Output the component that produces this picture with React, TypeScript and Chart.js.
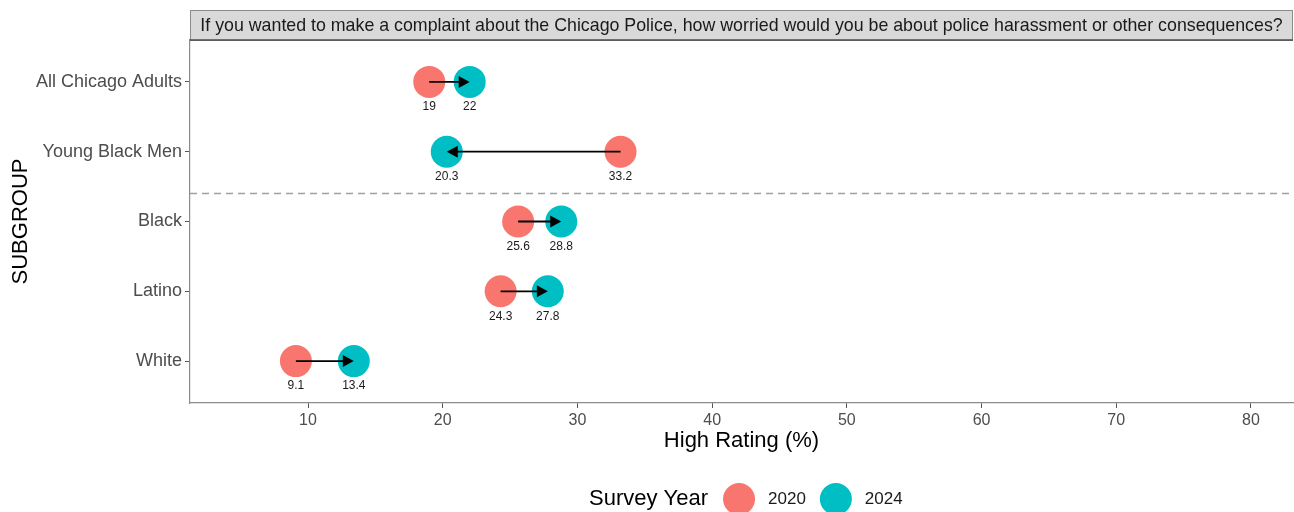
import React, { useEffect, useRef } from "react";
import { Chart, registerables } from "chart.js";

Chart.register(...registerables);

const categories = ["All Chicago Adults", "Young Black Men", "Black", "Latino", "White"];
const values2020 = [19, 33.2, 25.6, 24.3, 9.1];
const values2024 = [22, 20.3, 28.8, 27.8, 13.4];
const labels2020 = ["19", "33.2", "25.6", "24.3", "9.1"];
const labels2024 = ["22", "20.3", "28.8", "27.8", "13.4"];
const xTicks = [10, 20, 30, 40, 50, 60, 70, 80];
const seriesNames = ["2020", "2024"];
const dividerPosition = 1.6;
const stripTitle =
  "If you wanted to make a complaint about the Chicago Police, how worried would you be about police harassment or other consequences?";
const xTitle = "High Rating (%)";
const yTitle = "SUBGROUP";
const legendTitle = "Survey Year";

const COLORS = ["#F8766D", "#00BFC4"];
const FONT = "'Liberation Sans', Arial, Helvetica, sans-serif";

const overlayPlugin = {
  id: "overlay",
  beforeDatasetsDraw(chart: any) {
    const { ctx, chartArea, scales } = chart;
    const y = scales.y.getPixelForValue(dividerPosition);
    ctx.save();
    ctx.strokeStyle = "#a0a0a0";
    ctx.lineWidth = 1.5;
    ctx.setLineDash([7, 5]);
    ctx.beginPath();
    ctx.moveTo(chartArea.left, y);
    ctx.lineTo(chartArea.right, y);
    ctx.stroke();
    ctx.restore();
  },
  afterDatasetsDraw(chart: any) {
    const { ctx, scales } = chart;
    const xs = scales.x;
    const ys = scales.y;
    ctx.save();
    for (let i = 0; i < categories.length; i++) {
      const x1 = xs.getPixelForValue(values2020[i]);
      const x2 = xs.getPixelForValue(values2024[i]);
      const y = ys.getPixelForValue(i);
      const dir = Math.sign(x2 - x1) || 1;
      const headLen = 11;
      const headHalf = 6;
      ctx.strokeStyle = "#000";
      ctx.lineWidth = 1.8;
      ctx.beginPath();
      ctx.moveTo(x1, y);
      ctx.lineTo(x2 - dir * headLen * 0.6, y);
      ctx.stroke();
      ctx.fillStyle = "#000";
      ctx.beginPath();
      ctx.moveTo(x2, y);
      ctx.lineTo(x2 - dir * headLen, y - headHalf);
      ctx.lineTo(x2 - dir * headLen, y + headHalf);
      ctx.closePath();
      ctx.fill();
    }
    ctx.font = `12px ${FONT}`;
    ctx.fillStyle = "#1a1a1a";
    ctx.textAlign = "center";
    ctx.textBaseline = "middle";
    for (let i = 0; i < categories.length; i++) {
      const y = ys.getPixelForValue(i) + 25;
      ctx.fillText(labels2020[i], xs.getPixelForValue(values2020[i]), y);
      ctx.fillText(labels2024[i], xs.getPixelForValue(values2024[i]), y);
    }
    ctx.restore();
  },
  afterDraw(chart: any) {
    const { ctx, chartArea } = chart;
    ctx.save();
    const top = 10;
    const bottom = chartArea.top;
    ctx.fillStyle = "#D9D9D9";
    ctx.fillRect(chartArea.left, top, chartArea.right - chartArea.left, bottom - top);
    ctx.strokeStyle = "#8c8c8c";
    ctx.lineWidth = 1;
    ctx.strokeRect(chartArea.left + 0.5, top + 0.5, chartArea.right - chartArea.left - 1, bottom - top);
    ctx.strokeStyle = "#4d4d4d";
    ctx.lineWidth = 1.6;
    ctx.beginPath();
    ctx.moveTo(chartArea.left, bottom);
    ctx.lineTo(chartArea.right, bottom);
    ctx.stroke();
    ctx.fillStyle = "#1a1a1a";
    ctx.font = `17.8px ${FONT}`;
    ctx.textAlign = "center";
    ctx.textBaseline = "middle";
    ctx.fillText(stripTitle, (chartArea.left + chartArea.right) / 2, (top + bottom) / 2 + 1);

    ctx.fillStyle = "#000";
    ctx.font = `22px ${FONT}`;
    ctx.fillText(xTitle, (chartArea.left + chartArea.right) / 2, 441);
    ctx.save();
    ctx.translate(21, (chartArea.top + chartArea.bottom) / 2);
    ctx.rotate(-Math.PI / 2);
    ctx.fillText(yTitle, 0, 0);
    ctx.restore();

    const ly = 499;
    let lx = 589;
    ctx.textAlign = "left";
    ctx.font = `22px ${FONT}`;
    ctx.fillStyle = "#000";
    ctx.fillText(legendTitle, lx, ly);
    lx += ctx.measureText(legendTitle).width + 15;
    ctx.font = `17px ${FONT}`;
    for (let k = 0; k < seriesNames.length; k++) {
      ctx.fillStyle = COLORS[k];
      ctx.beginPath();
      ctx.arc(lx + 16, ly, 16, 0, Math.PI * 2);
      ctx.fill();
      lx += 32 + 13;
      ctx.fillStyle = "#1a1a1a";
      ctx.fillText(seriesNames[k], lx, ly);
      lx += ctx.measureText(seriesNames[k]).width + 14;
    }
    ctx.restore();
  },
};

export default function App() {
  const canvasRef = useRef<HTMLCanvasElement | null>(null);

  useEffect(() => {
    if (!canvasRef.current) return;
    Chart.defaults.font.family = FONT;
    const chart = new Chart(canvasRef.current, {
      type: "scatter",
      data: {
        datasets: [
          {
            label: seriesNames[0],
            data: values2020.map((v, i) => ({ x: v, y: i })),
            backgroundColor: COLORS[0],
            borderWidth: 0,
            pointRadius: 16,
            pointHoverRadius: 16,
          },
          {
            label: seriesNames[1],
            data: values2024.map((v, i) => ({ x: v, y: i })),
            backgroundColor: COLORS[1],
            borderWidth: 0,
            pointRadius: 16,
            pointHoverRadius: 16,
          },
        ],
      },
      options: {
        responsive: false,
        animation: false,
        devicePixelRatio: 1,
        events: [],
        layout: { autoPadding: false, padding: { top: 40, right: 1, left: 0, bottom: 0 } },
        plugins: {
          legend: { display: false },
          tooltip: { enabled: false },
        },
        scales: {
          x: {
            type: "linear",
            min: 1.24,
            max: 83.12,
            afterBuildTicks: (scale: any) => {
              scale.ticks = xTicks.map((v) => ({ value: v }));
            },
            afterFit: (scale: any) => {
              scale.height = 109;
              scale.paddingLeft = 0;
              scale.paddingRight = 0;
            },
            grid: {
              display: true,
              drawOnChartArea: false,
              drawTicks: true,
              tickLength: 5,
              tickColor: "#555555",
            },
            border: { display: true, color: "#8c8c8c", width: 1.2 },
            ticks: {
              padding: 3,
              color: "#4d4d4d",
              font: { size: 16, family: FONT },
              maxRotation: 0,
              callback: (v: any) => String(v),
            },
          },
          y: {
            type: "linear",
            reverse: true,
            min: -0.6,
            max: 4.6,
            afterBuildTicks: (scale: any) => {
              scale.ticks = categories.map((_, i) => ({ value: i }));
            },
            afterFit: (scale: any) => {
              scale.width = 190;
              scale.paddingTop = 0;
              scale.paddingBottom = 0;
            },
            grid: {
              display: true,
              drawOnChartArea: false,
              drawTicks: true,
              tickLength: 5,
              tickColor: "#555555",
            },
            border: { display: true, color: "#8c8c8c", width: 1.2 },
            ticks: {
              padding: 3,
              color: "#4d4d4d",
              font: { size: 18, family: FONT },
              callback: (v: any) => categories[Math.round(v)] ?? "",
            },
          },
        },
      },
      plugins: [overlayPlugin],
    });
    return () => chart.destroy();
  }, []);

  return (
    <div style={{ position: "absolute", left: 0, top: 0, width: 1294, height: 512, background: "#fff" }}>
      <canvas ref={canvasRef} width={1294} height={512} style={{ display: "block" }} />
    </div>
  );
}
